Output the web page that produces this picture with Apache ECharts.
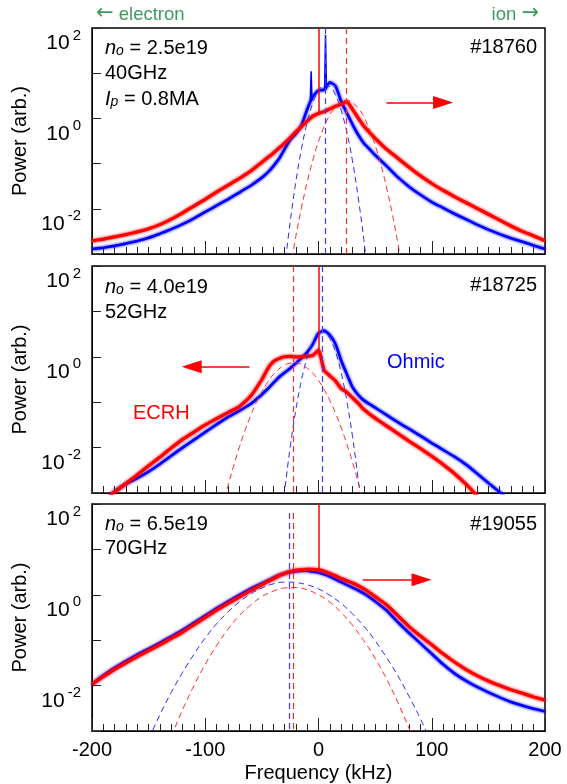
<!DOCTYPE html>
<html>
<head>
<meta charset="utf-8">
<script src="https://cdn.jsdelivr.net/npm/echarts@6/dist/echarts.min.js"></script>
<style>
  html, body { margin: 0; padding: 0; background: #fff; }
  #chart { width: 567px; height: 784px; }
</style>
</head>
<body>
<div id="chart"></div>
<script>
// frequency grid (kHz) for the measured spectra
const freq = [-200,-190,-180,-170,-160,-150,-140,-130,-120,-110,-100,-90,-80,-70,-60,
  -50,-45,-40,-35,-30,-25,-20,-15,-10,-5,0,5,10,15,20,25,30,35,40,45,50,
  60,70,80,90,100,110,120,130,140,150,160,170,180,190,200];

// log10 of power (arb.)
const ohmic1 = [-2.89,-2.86,-2.82,-2.77,-2.71,-2.64,-2.55,-2.45,-2.34,-2.21,-2.07,-1.93,-1.79,-1.64,-1.49,
  -1.31,-1.20,-1.06,-0.90,-0.68,-0.47,-0.34,-0.15,0.20,0.48,0.62,0.63,0.80,0.72,0.38,0.12,-0.13,-0.36,-0.55,-0.68,-0.81,
  -1.05,-1.30,-1.51,-1.69,-1.85,-1.98,-2.11,-2.23,-2.35,-2.46,-2.56,-2.65,-2.73,-2.81,-2.89];
const ecrh1 = [-2.71,-2.67,-2.62,-2.57,-2.51,-2.44,-2.35,-2.23,-2.09,-1.94,-1.79,-1.63,-1.48,-1.33,-1.17,
  -0.97,-0.87,-0.77,-0.66,-0.55,-0.43,-0.30,-0.18,-0.06,0.05,0.11,0.15,0.21,0.27,0.32,0.37,0.20,0.01,-0.17,-0.31,-0.44,
  -0.68,-0.88,-1.08,-1.27,-1.44,-1.59,-1.73,-1.86,-1.99,-2.12,-2.25,-2.38,-2.50,-2.60,-2.71];

const ohmic2 = [-3.45,-3.20,-2.97,-2.80,-2.67,-2.53,-2.36,-2.18,-2.00,-1.83,-1.66,-1.49,-1.33,-1.19,-1.04,
  -0.83,-0.71,-0.58,-0.45,-0.35,-0.25,-0.14,-0.03,0.10,0.28,0.52,0.58,0.48,0.28,-0.08,-0.38,-0.67,-0.84,-0.96,-1.04,-1.12,
  -1.28,-1.44,-1.59,-1.74,-1.90,-2.05,-2.20,-2.37,-2.57,-2.78,-2.98,-3.20,-3.40,-3.60,-3.80];
const ecrh2 = [-3.40,-3.19,-2.98,-2.79,-2.60,-2.40,-2.21,-2.01,-1.82,-1.66,-1.50,-1.36,-1.23,-1.10,-0.87,
  -0.50,-0.27,-0.11,-0.04,0.00,0.01,0.00,0.00,0.01,0.03,0.15,-0.30,-0.42,-0.53,-0.70,-0.78,-0.90,-1.02,-1.16,-1.26,-1.35,
  -1.52,-1.69,-1.86,-2.02,-2.19,-2.37,-2.57,-2.80,-3.06,-3.32,-3.60,-3.90,-4.20,-4.50,-4.80];

const ohmic3 = [-1.97,-1.78,-1.61,-1.46,-1.32,-1.19,-1.06,-0.92,-0.78,-0.62,-0.46,-0.30,-0.15,-0.01,0.13,
  0.25,0.31,0.37,0.43,0.47,0.50,0.52,0.53,0.53,0.51,0.49,0.45,0.40,0.34,0.28,0.22,0.16,0.10,0.03,-0.05,-0.14,
  -0.34,-0.60,-0.84,-1.07,-1.30,-1.53,-1.73,-1.89,-2.03,-2.15,-2.26,-2.36,-2.44,-2.51,-2.57];
const ecrh3 = [-1.97,-1.80,-1.64,-1.50,-1.36,-1.23,-1.10,-0.96,-0.82,-0.66,-0.50,-0.34,-0.19,-0.05,0.09,
  0.22,0.29,0.35,0.42,0.47,0.51,0.54,0.55,0.56,0.56,0.55,0.52,0.47,0.42,0.36,0.31,0.26,0.20,0.13,0.05,-0.04,
  -0.22,-0.46,-0.70,-0.91,-1.10,-1.30,-1.48,-1.64,-1.78,-1.90,-2.00,-2.09,-2.17,-2.25,-2.32];

// dashed fit curves (log10 power)
const fitFreqB1 = [-30,-25,-20,-15,-10,-5,0,5,10,15,20,25,30,35,40,45];
const fitB1 = [-3.32,-2.29,-1.40,-0.67,-0.09,0.34,0.61,0.73,0.70,0.52,0.18,-0.30,-0.94,-1.74,-2.68,-3.78];
const fitFreqR1 = [-25,-20,-15,-10,-5,0,5,10,15,20,25,30,35,40,45,50,55,60,65,70,75];
const fitR1 = [-3.32,-2.61,-1.97,-1.41,-0.92,-0.51,-0.18,0.08,0.26,0.37,0.40,0.35,0.23,0.04,-0.24,-0.59,-1.01,-1.52,-2.09,-2.75,-3.48];
const fitFreqB2 = [-32.5,-30,-25,-20,-15,-10,-5,0,5,10,15,20,25,30,35,37.5];
const fitB2 = [-3.53,-2.98,-1.99,-1.17,-0.51,-0.01,0.33,0.52,0.54,0.40,0.11,-0.35,-0.97,-1.75,-2.69,-3.21];
const fitFreqR2 = [-85,-80,-75,-70,-65,-60,-55,-50,-45,-40,-35,-30,-25,-20,-15,-10,-5,0,5,10,15,20,25,30,35,40];
const fitR2 = [-3.34,-2.85,-2.41,-2.00,-1.63,-1.30,-1.01,-0.77,-0.56,-0.39,-0.27,-0.18,-0.14,-0.13,-0.17,-0.25,-0.36,-0.52,-0.72,-0.96,-1.24,-1.56,-1.92,-2.32,-2.76,-3.24];
const fitFreqB3 = [-150,-140,-130,-120,-110,-100,-90,-80,-70,-60,-50,-40,-30,-20,-10,0,10,20,30,40,50,60,70,80,90,100];
const fitB3 = [-3.18,-2.64,-2.15,-1.71,-1.31,-0.95,-0.64,-0.38,-0.16,0.02,0.15,0.24,0.28,0.27,0.22,0.13,-0.01,-0.19,-0.42,-0.69,-1.01,-1.38,-1.78,-2.24,-2.73,-3.28];
const fitFreqR3 = [-130,-120,-110,-100,-90,-80,-70,-60,-50,-40,-30,-20,-10,0,10,20,30,40,50,60,70,80,90];
const fitR3 = [-3.12,-2.53,-2.00,-1.53,-1.12,-0.76,-0.46,-0.23,-0.04,0.08,0.15,0.16,0.11,0.00,-0.16,-0.39,-0.67,-1.01,-1.40,-1.85,-2.37,-2.94,-3.56];

// coherent peaks in the Ohmic spectrum of panel 1
const spikeFreq1 = [-6.5, 6.2];
const spikeTop1 = [1.04, 1.85];
const spikeBase1 = [0.40, 0.64];

// per panel: carrier line level, fit centres, arrows
const carrierLevel = [0.11, 0.15, 0.55];
const blueCentre = [6.3, 3.2, -25.6];
const redCentre = [24.5, -22, -22.7];
const centreTop = [2, 2, 1.8];
const arrowFrom = [60, -61, 39];
const arrowTo = [110, -112, 91];
const arrowLevel = [0.35, -0.22, 0.33];

const shots = ['#18760', '#18725', '#19055'];
const FONT = '"Liberation Sans", Arial, sans-serif';
const RED = '#ff0000', BLUE = '#0000ff', GREEN = '#3c9b5f';

const tops = [28, 266, 504];
const heights = [226, 227, 227];

const pairs = (xs, ys) => xs.map((x, i) => [x, ys[i]]);

const grids = tops.map((t, i) => ({
  left: 92, width: 453, top: t, height: heights[i],
  show: true, borderColor: '#000', borderWidth: 1.5
}));

// main axes 0..2; hidden helper axes 3..5 (range without zero) pin the main axes to the panel edges
const xAxes = tops.map((t, i) => {
  const ax = {
    type: 'value', gridIndex: i, min: -200, max: 200, interval: 100,
    axisLine: { show: true, onZero: true, onZeroAxisIndex: 3 + i, lineStyle: { color: '#000' } },
    axisTick: { show: true, inside: true, length: 13, lineStyle: { color: '#222', width: 1 } },
    minorTick: { show: true, splitNumber: 10, length: 7, lineStyle: { color: '#222', width: 1 } },
    splitLine: { show: false },
    axisLabel: { margin: 9, color: '#000', fontSize: 20, fontFamily: FONT }
  };
  if (i === 2) {
    ax.name = 'Frequency (kHz)';
    ax.nameLocation = 'middle';
    ax.nameGap = 32;
    ax.nameTextStyle = { color: '#000', fontSize: 20, fontFamily: FONT };
  } else {
    ax.axisLabel.formatter = () => '';
  }
  return ax;
});

const yAxes = tops.map((t, i) => ({
  type: 'value', gridIndex: i, min: -3, max: 2, interval: 1,
  axisLine: { show: true, onZero: true, onZeroAxisIndex: 3 + i, lineStyle: { color: '#000' } },
  axisTick: { show: true, inside: true, length: 9, lineStyle: { color: '#222', width: 1 } },
  splitLine: { show: false },
  axisLabel: {
    margin: 11, verticalAlign: 'top', color: '#000',
    formatter: v => (v % 2 === 0 ? '{b|10}{s|' + v + '}' : ''),
    rich: {
      b: { fontSize: 21, fontFamily: FONT, color: '#000', lineHeight: 26, verticalAlign: 'bottom' },
      s: { fontSize: 15, fontFamily: FONT, color: '#000', lineHeight: 14, verticalAlign: 'top', padding: [0, 0, 0, 3] }
    }
  },
  name: 'Power (arb.)', nameLocation: 'middle', nameGap: 53, nameRotate: 90,
  nameTextStyle: { color: '#000', fontSize: 20, fontFamily: FONT }
}));

tops.forEach((t, i) => {
  xAxes.push({ type: 'value', gridIndex: i, min: 1, max: 2, show: false });
  yAxes.push({ type: 'value', gridIndex: i, min: 1, max: 2, show: false });
});

const measured = [[ohmic1, ecrh1], [ohmic2, ecrh2], [ohmic3, ecrh3]];
const fits = [
  [fitFreqB1, fitB1, fitFreqR1, fitR1],
  [fitFreqB2, fitB2, fitFreqR2, fitR2],
  [fitFreqB3, fitB3, fitFreqR3, fitR3]
];

const series = [];
const baseLine = (i, color, width, data, z) => ({
  type: 'line', xAxisIndex: i, yAxisIndex: i, data, showSymbol: false,
  smooth: 0.15, z, silent: true,
  lineStyle: { color, width, shadowColor: color, shadowBlur: 3 }
});

for (let i = 0; i < 3; i++) {
  const [oh, ec] = measured[i];
  const [fb, vb, fr, vr] = fits[i];
  const ohm = baseLine(i, BLUE, 2.6, pairs(freq, oh), 2);
  const ecr = baseLine(i, RED, 3.2, pairs(freq, ec), 3);
  ecr.markLine = {
    silent: true, symbol: ['none', 'none'], label: { show: false }, animation: false,
    data: [
      [{ coord: [0, carrierLevel[i]], lineStyle: { color: RED, width: 1.5, type: 'solid' } },
       { coord: [0, 2] }],
      [{ coord: [arrowFrom[i], arrowLevel[i]], lineStyle: { color: RED, width: 1.5, type: 'solid' } },
       { coord: [arrowTo[i], arrowLevel[i]], symbol: 'triangle', symbolSize: [13, 20] }]
    ]
  };
  const dashB = {
    type: 'line', xAxisIndex: i, yAxisIndex: i, data: pairs(fb, vb), showSymbol: false,
    smooth: 0.4, z: 4, silent: true,
    lineStyle: { color: '#2a2aff', width: 1, type: [6, 4] },
    markLine: {
      silent: true, symbol: ['none', 'none'], label: { show: false }, animation: false,
      data: [[{ coord: [blueCentre[i], centreTop[i]], lineStyle: { color: '#3c3cff', width: 1.2, type: [6, 4] } },
              { coord: [blueCentre[i], -3] }]]
    }
  };
  const dashR = {
    type: 'line', xAxisIndex: i, yAxisIndex: i, data: pairs(fr, vr), showSymbol: false,
    smooth: 0.4, z: 4, silent: true,
    lineStyle: { color: '#ff2a2a', width: 1, type: [6, 4] },
    markLine: {
      silent: true, symbol: ['none', 'none'], label: { show: false }, animation: false,
      data: [[{ coord: [redCentre[i], centreTop[i]], lineStyle: { color: '#ff2a2a', width: 1.2, type: [6, 4] } },
              { coord: [redCentre[i], -3] }]]
    }
  };
  series.push(ohm, ecr, dashB, dashR);
}

spikeFreq1.forEach((f, k) => {
  series.push({
    type: 'line', xAxisIndex: 0, yAxisIndex: 0, showSymbol: false, z: 2, silent: true,
    data: [[f - 0.8, spikeBase1[k]], [f, spikeTop1[k]], [f + 0.8, spikeBase1[k]]],
    lineStyle: { color: BLUE, width: 1.5 }
  });
});

const txt = (x, y, text, opts = {}) => ({
  type: 'text', x, y, silent: true,
  style: Object.assign({
    text, font: '20px ' + FONT, fill: '#000',
    textAlign: 'left', textVerticalAlign: 'middle'
  }, opts)
});
const subRich = {
  n: { fontStyle: 'italic', fontSize: 20, fontFamily: FONT, verticalAlign: 'bottom' },
  o: { fontStyle: 'italic', fontSize: 14, fontFamily: FONT, verticalAlign: 'bottom' },
  t: { fontSize: 20, fontFamily: FONT, verticalAlign: 'bottom' }
};
const greenRich = {
  a: { fontSize: 21, fontFamily: '"DejaVu Sans", sans-serif', fill: GREEN, verticalAlign: 'bottom' },
  w: { fontSize: 18.5, fontFamily: FONT, fill: GREEN, verticalAlign: 'bottom' }
};

const graphic = [
  txt(96, 14, '{a|\u2190}{w| electron}', { rich: greenRich }),
  txt(539, 14, '{w|ion }{a|\u2192}', { rich: greenRich, textAlign: 'right' }),
  txt(105, 48, '{n|n}{o|o}{t| = 2.5e19}', { rich: subRich }),
  txt(105, 73, '40GHz'),
  txt(105, 99, '{n|I}{o|p}{t| = 0.8MA}', { rich: subRich }),
  txt(105, 287, '{n|n}{o|o}{t| = 4.0e19}', { rich: subRich }),
  txt(105, 312, '52GHz'),
  txt(105, 524, '{n|n}{o|o}{t| = 6.5e19}', { rich: subRich }),
  txt(105, 548, '70GHz'),
  txt(537, 47, shots[0], { textAlign: 'right' }),
  txt(537, 285, shots[1], { textAlign: 'right' }),
  txt(537, 524, shots[2], { textAlign: 'right' }),
  txt(387, 362, 'Ohmic', { fill: BLUE }),
  txt(133, 413, 'ECRH', { fill: RED })
];

const chart = echarts.init(document.getElementById('chart'));
chart.setOption({
  animation: false,
  grid: grids,
  xAxis: xAxes,
  yAxis: yAxes,
  series,
  graphic
});
</script>
</body>
</html>
